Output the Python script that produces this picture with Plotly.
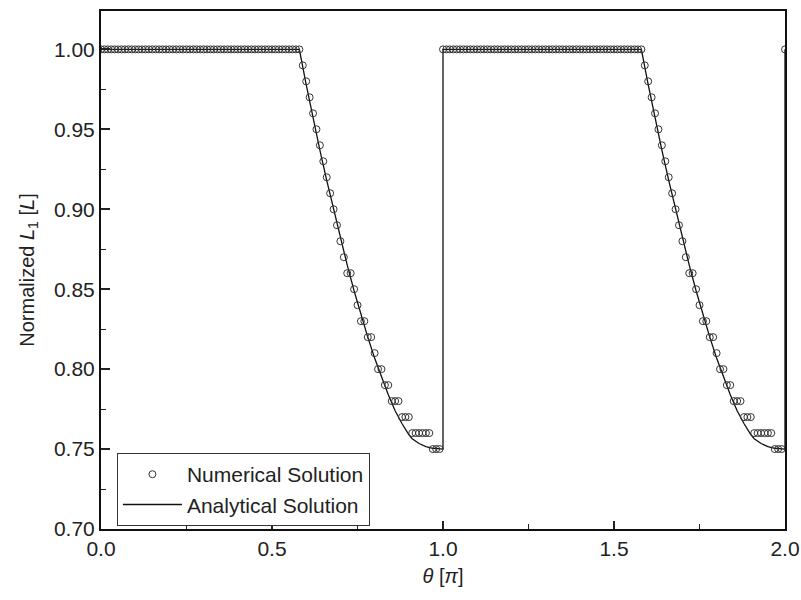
import numpy as np
import plotly.graph_objects as go

# ---- Numerical solution (sampled every 0.01 pi) ----
theta_num = np.round(np.arange(0, 201) * 0.01, 2)
flat_part = [1.0] * 59  # theta 0.00 .. 0.58
descent_part = [0.99, 0.98, 0.97, 0.96, 0.95, 0.94, 0.93, 0.92, 0.91, 0.90,
                0.89, 0.88, 0.87, 0.86, 0.86, 0.85, 0.84, 0.83, 0.83, 0.82,
                0.82, 0.81, 0.80, 0.80, 0.79, 0.79, 0.78, 0.78, 0.78, 0.77,
                0.77, 0.77, 0.76, 0.76, 0.76, 0.76, 0.76, 0.76, 0.75, 0.75,
                0.75]  # theta 0.59 .. 0.99
num_values = flat_part + descent_part + flat_part + descent_part + [1.0]

# ---- Analytical solution ----
theta_ana_period = [0.00, 0.58, 0.60, 0.62, 0.64, 0.66, 0.68, 0.70, 0.72, 0.74,
                    0.76, 0.78, 0.80, 0.82, 0.84, 0.86, 0.88, 0.90, 0.91, 0.93,
                    0.95, 0.97, 0.99, 1.00]
ana_period = [1.000, 1.000, 0.978, 0.957, 0.937, 0.918, 0.900, 0.882, 0.865, 0.849,
              0.834, 0.820, 0.807, 0.795, 0.784, 0.774, 0.766, 0.759, 0.7565, 0.7535,
              0.7515, 0.7505, 0.7500, 0.7500]
theta_ana = theta_ana_period + [t + 1.0 for t in theta_ana_period] + [2.0]
ana_values = ana_period + ana_period + [1.0]

fig = go.Figure()
fig.add_trace(go.Scatter(
    x=theta_ana, y=ana_values, mode="lines", name="Analytical Solution",
    line=dict(color="#111111", width=1.3), showlegend=False))
fig.add_trace(go.Scatter(
    x=theta_num, y=num_values, mode="markers", name="Numerical Solution",
    marker=dict(symbol="circle-open", size=7, color="#333333",
                line=dict(width=1.0, color="#333333"))))
fig.add_trace(go.Scatter(
    x=[None], y=[None], mode="lines", name="Analytical Solution",
    line=dict(color="#111111", width=1.3)))

font = dict(family="Liberation Sans, Arial, sans-serif", size=21, color="#222222")

fig.update_layout(
    width=801, height=600,
    margin=dict(l=101, r=16, t=11, b=71, autoexpand=False),
    plot_bgcolor="white", paper_bgcolor="white",
    font=font,
    showlegend=True,
    legend=dict(x=0.023, y=0.147, xanchor="left", yanchor="top",
                bordercolor="#333333", borderwidth=1.2, bgcolor="white",
                font=dict(size=21), tracegroupgap=0, itemwidth=59,
                entrywidth=250, entrywidthmode="pixels"),
)
fig.update_xaxes(
    range=[0, 2.0], dtick=0.5, tick0=0, tickformat=".1f",
    ticks="inside", ticklen=8, tickwidth=1.5, tickcolor="#222",
    minor=dict(ticks="inside", dtick=0.25, ticklen=5, tickwidth=1.2, tickcolor="#222"),
    showline=True, linecolor="#111", linewidth=2, mirror=True,
    showgrid=False, zeroline=False, automargin=False,
    tickfont=dict(size=21),
    title=dict(text="<i>θ</i> [<i>π</i>]", font=dict(size=20), standoff=10),
)
fig.update_yaxes(
    range=[0.70, 1.024], dtick=0.05, tick0=0.70, tickformat=".2f",
    ticks="inside", ticklen=9, tickwidth=1.5, tickcolor="#222",
    minor=dict(ticks="inside", dtick=0.025, ticklen=5, tickwidth=1.2, tickcolor="#222"),
    showline=True, linecolor="#111", linewidth=2, mirror=True,
    showgrid=False, zeroline=False, automargin=False,
    tickfont=dict(size=21),
    title=dict(text="Normalized <i>L</i><sub>1</sub> [<i>L</i>]", font=dict(size=20), standoff=14),
)

fig.write_html("out.html")
